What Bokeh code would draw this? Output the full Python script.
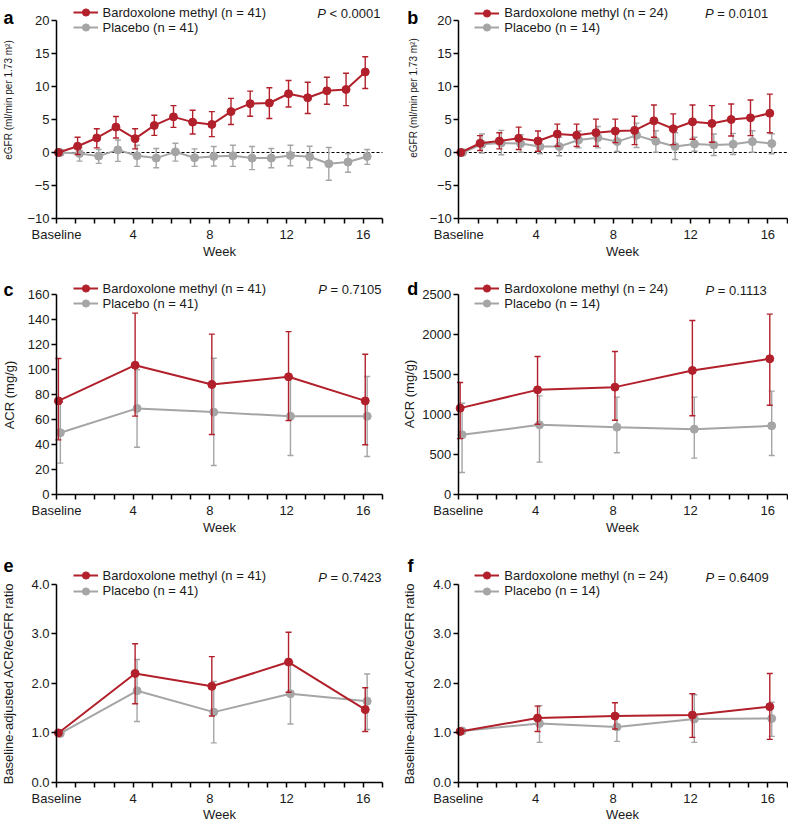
import math
import numpy as np
from bokeh.plotting import figure
from bokeh.models import Range1d, FixedTicker, Label, Legend, LegendItem, LinearAxis
from bokeh.layouts import row, column
from bokeh.embed import file_html
from bokeh.resources import INLINE

NAN = float("nan")

# ---------------- data ----------------
week_ticks = list(range(18))
week_tick_labels = ["Baseline", "", "", "", "4", "", "", "", "8", "", "", "", "12",
                    "", "", "", "16", ""]
weeks_egfr = list(range(17))
weeks_acr = [0, 4, 8, 12, 16]
week_span = (0, 17)
zero_line_y = [0, 0]

egfr_yticks = [-10, -5, 0, 5, 10, 15, 20]
egfr_ylabels = ["\u221210", "\u22125", "0", "5", "10", "15", "20"]
acr_c_yticks = [0, 20, 40, 60, 80, 100, 120, 140, 160]
acr_c_ylabels = ["0", "20", "40", "60", "80", "100", "120", "140", "160"]
acr_d_yticks = [0, 500, 1000, 1500, 2000, 2500]
acr_d_ylabels = ["0", "500", "1000", "1500", "2000", "2500"]
ratio_yticks = [0, 1, 2, 3, 4]
ratio_ylabels = ["0.0", "1.0", "2.0", "3.0", "4.0"]

egfr_title = "eGFR (ml/min per 1.73 m\u00b2)"
acr_title = "ACR (mg/g)"
ratio_title = "Baseline-adjusted ACR/eGFR ratio"
x_title = "Week"

# panel a (n = 41 / 41)
a_bard = [0, 0.95, 2.2, 3.85, 2.1, 4.1, 5.4, 4.6, 4.25, 6.2, 7.4, 7.5, 8.9, 8.3, 9.35, 9.55, 12.2]
a_bard_lo = [NAN, -0.3, 0.7, 2.2, 0.55, 2.6, 3.8, 2.8, 2.4, 4.25, 5.5, 5.15, 6.9, 5.9, 7.3, 7.1, 9.7]
a_bard_hi = [NAN, 2.3, 3.6, 5.45, 3.6, 5.65, 7.1, 6.4, 6.2, 8.2, 9.3, 9.8, 10.9, 10.65, 11.4, 12.0, 14.5]
a_plac = [0, -0.15, -0.55, 0.4, -0.5, -0.85, 0.1, -0.8, -0.6, -0.5, -0.85, -0.85, -0.45, -0.65, -1.7, -1.45, -0.6]
a_plac_lo = [NAN, -1.3, -1.65, -1.35, -2.1, -2.3, -1.3, -2.1, -2.05, -2.1, -2.6, -2.3, -2.0, -2.3, -4.2, -3.0, -1.8]
a_plac_hi = [NAN, 0.75, 0.45, 1.9, 1.1, 0.6, 1.4, 0.55, 0.9, 1.1, 0.9, 0.6, 1.1, 0.95, 0.75, -0.2, 0.45]

# panel b (n = 24 / 14)
b_bard = [0, 1.4, 1.75, 2.15, 1.75, 2.8, 2.6, 3.0, 3.25, 3.35, 4.8, 3.6, 4.65, 4.4, 5.0, 5.25, 5.95]
b_bard_lo = [NAN, 0.3, 0.55, 0.45, 0.2, 0.95, 0.9, 0.95, 1.5, 1.2, 2.3, 1.2, 2.0, 1.55, 2.5, 2.55, 3.0]
b_bard_hi = [NAN, 2.55, 3.0, 3.85, 3.25, 4.3, 4.3, 5.05, 5.05, 5.5, 7.2, 5.85, 7.2, 7.1, 7.35, 7.95, 8.85]
b_plac = [0, 1.25, 1.45, 1.35, 0.9, 0.9, 1.9, 2.25, 1.65, 2.6, 1.7, 0.9, 1.3, 1.15, 1.25, 1.65, 1.35]
b_plac_lo = [NAN, -0.1, -0.35, 0.05, -0.2, -0.5, 0.7, 0.7, 0.15, 0.75, 0.05, -1.05, 0.2, -0.45, -0.3, 0.05, -0.2]
b_plac_hi = [NAN, 2.8, 3.35, 2.7, 2.1, 2.3, 3.25, 3.95, 3.1, 4.45, 3.3, 3.0, 2.3, 2.8, 2.9, 3.3, 2.85]

# panel c (n = 41 / 41)
c_bard = [75, 103.6, 88.1, 94.3, 75]
c_bard_lo = [43.8, 62.8, 48.1, 59.3, 39.8]
c_bard_hi = [109, 145.3, 128.5, 130.5, 112.4]
c_plac = [49.5, 69, 66, 62.7, 62.7]
c_plac_lo = [25.1, 37.9, 23.2, 31.2, 30.4]
c_plac_hi = [74, 100, 109.2, 94, 94.5]

# panel d (n = 24 / 14)
d_bard = [1081, 1310, 1344, 1553, 1699]
d_bard_lo = [700, 880, 930, 985, 1118]
d_bard_hi = [1402, 1728, 1790, 2178, 2258]
d_plac = [747, 872, 843, 818, 860]
d_plac_lo = [275, 405, 522, 455, 488]
d_plac_hi = [1143, 1235, 1219, 1219, 1294]

# panel e (n = 41 / 41)
e_bard = [1.0, 2.2, 1.94, 2.43, 1.47]
e_bard_lo = [NAN, 1.59, 1.34, 1.82, 1.03]
e_bard_hi = [NAN, 2.8, 2.54, 3.03, 1.91]
e_plac = [0.99, 1.85, 1.42, 1.79, 1.64]
e_plac_lo = [NAN, 1.23, 0.8, 1.18, 1.07]
e_plac_hi = [NAN, 2.48, 2.04, 2.42, 2.19]

# panel f (n = 24 / 14)
f_bard = [1.03, 1.30, 1.34, 1.36, 1.53]
f_bard_lo = [NAN, 1.03, 1.08, 0.91, 0.87]
f_bard_hi = [NAN, 1.54, 1.61, 1.79, 2.2]
f_plac = [1.04, 1.19, 1.12, 1.28, 1.29]
f_plac_lo = [NAN, 0.81, 0.83, 0.81, 0.93]
f_plac_hi = [NAN, 1.55, 1.38, 1.77, 1.62]

bard_labels = ["Bardoxolone methyl (n = 41)", "Bardoxolone methyl (n = 24)"]
plac_labels = ["Placebo (n = 41)", "Placebo (n = 14)"]
p_values = {"a": "< 0.0001", "b": "= 0.0101", "c": "= 0.7105",
            "d": "= 0.1113", "e": "= 0.7423", "f": "= 0.6409"}

# ---------------- style / layout (page pixels) ----------------
FONT = "Liberation Sans"
RED = "#B2202B"
GRAY = "#A5A5A5"
TXT = "#1a1a1a"

COL_X = [0, 394]
COL_W = [394, 394]
ROW_Y = [0, 270, 540]
ROW_H = [270, 270, 283]

# ax: (x of week 0, x of week 17, y of top tick, y of bottom tick)
# leg: (x of legend glyph left, y of row 1 centre, y of row 2 centre)
panels = [
    dict(key="a", r=0, c=0, yr=(-10, 20), yt=egfr_yticks, ytl=egfr_ylabels, ytitle=egfr_title,
         ysize="10px", x=weeks_egfr, zero=True, n=0,
         bard=(a_bard, a_bard_lo, a_bard_hi), plac=(a_plac, a_plac_lo, a_plac_hi),
         ax=(56, 382, 20, 218), letter=(3, 17.3), ylab=(8, 99.5), week=(219, 251),
         pright=380, py=13, leg=(72.5, 12, 27.3)),
    dict(key="b", r=0, c=1, yr=(-10, 20), yt=egfr_yticks, ytl=egfr_ylabels, ytitle=egfr_title,
         ysize="10px", x=weeks_egfr, zero=True, n=1,
         bard=(b_bard, b_bard_lo, b_bard_hi), plac=(b_plac, b_plac_lo, b_plac_hi),
         ax=(458.3, 786.7, 20, 218), letter=(406.7, 17.3), ylab=(413, 97.5), week=(622, 251),
         pright=767.7, py=13.3, leg=(474.3, 12.7, 27.3)),
    dict(key="c", r=1, c=0, yr=(0, 160), yt=acr_c_yticks, ytl=acr_c_ylabels, ytitle=acr_title,
         ysize="13px", x=weeks_acr, zero=False, n=0,
         bard=(c_bard, c_bard_lo, c_bard_hi), plac=(c_plac, c_plac_lo, c_plac_hi),
         ax=(56, 382, 294.3, 494), letter=(3, 289), ylab=(9, 394.5), week=(219, 526.7),
         pright=381, py=289, leg=(72.5, 288.3, 303.3)),
    dict(key="d", r=1, c=1, yr=(0, 2500), yt=acr_d_yticks, ytl=acr_d_ylabels, ytitle=acr_title,
         ysize="13px", x=weeks_acr, zero=False, n=1,
         bard=(d_bard, d_bard_lo, d_bard_hi), plac=(d_plac, d_plac_lo, d_plac_hi),
         ax=(457.7, 786.7, 294.3, 494), letter=(406.7, 288.3), ylab=(409, 393.5),
         week=(622, 526.7), pright=768.3, py=290, leg=(474.3, 288.3, 303.3)),
    dict(key="e", r=2, c=0, yr=(0, 4), yt=ratio_yticks, ytl=ratio_ylabels, ytitle=ratio_title,
         ysize="13px", x=weeks_acr, zero=False, n=0,
         bard=(e_bard, e_bard_lo, e_bard_hi), plac=(e_plac, e_plac_lo, e_plac_hi),
         ax=(56, 382, 583.7, 782), letter=(3, 565), ylab=(7.5, 683), week=(219, 813.5),
         pright=381, py=576.7, leg=(72.5, 575, 590.7)),
    dict(key="f", r=2, c=1, yr=(0, 4), yt=ratio_yticks, ytl=ratio_ylabels, ytitle=ratio_title,
         ysize="13px", x=weeks_acr, zero=False, n=1,
         bard=(f_bard, f_bard_lo, f_bard_hi), plac=(f_plac, f_plac_lo, f_plac_hi),
         ax=(457.7, 786.7, 583.7, 782), letter=(407, 565), ylab=(409, 683),
         week=(622, 813.5), pright=768.3, py=576.7, leg=(474.3, 575, 590.7)),
]

VALUE_W = 51.0   # width of "= 0.0000" at 13px
GAP_W = 3.6      # a space at 13px
LEG_H = 18       # legend glyph box height


def build(s):
    cx, cy = COL_X[s["c"]], ROW_Y[s["r"]]
    W, H = COL_W[s["c"]], ROW_H[s["r"]]
    y0, y1 = s["yr"]
    px0, px17, pyt, pyb = s["ax"]
    sx = (px17 - px0) / (week_span[1] - week_span[0])
    sy = (pyb - pyt) / (y1 - y0)
    xs0 = week_span[0] - (px0 - cx) / sx
    xs1 = xs0 + W / sx
    ye1 = y1 + (pyt - cy) / sy
    ye0 = ye1 - H / sy

    def dx(px):
        return xs0 + (px - cx) / sx

    def dy(py):
        return ye1 - (py - cy) / sy

    p = figure(width=W, height=H, x_range=Range1d(xs0, xs1), y_range=Range1d(ye0, ye1),
               output_backend="svg", toolbar_location=None, title=None,
               x_axis_location=None, y_axis_location=None, min_border=0)
    p.xgrid.visible = False
    p.ygrid.visible = False
    p.outline_line_color = None
    p.background_fill_color = "white"
    p.border_fill_color = "white"

    xaxis = LinearAxis(fixed_location=y0, bounds=week_span,
                       ticker=FixedTicker(ticks=week_ticks),
                       major_label_overrides={t: l for t, l in zip(week_ticks, week_tick_labels)})
    yaxis = LinearAxis(fixed_location=week_span[0], bounds=(y0, y1),
                       ticker=FixedTicker(ticks=s["yt"]),
                       major_label_overrides={t: l for t, l in zip(s["yt"], s["ytl"])})
    for ax in (xaxis, yaxis):
        ax.axis_line_color = "black"
        ax.axis_line_width = 1.5
        ax.major_tick_line_color = "black"
        ax.major_tick_line_width = 1.5
        ax.major_tick_out = 5
        ax.major_tick_in = 0
        ax.minor_tick_line_color = None
        ax.major_label_text_font = FONT
        ax.major_label_text_font_size = "13px"
        ax.major_label_text_color = TXT
    xaxis.major_label_standoff = 3
    yaxis.major_label_standoff = 2
    p.add_layout(xaxis, "below")
    p.add_layout(yaxis, "left")

    if s["zero"]:
        p.line(x=list(week_span), y=zero_line_y, line_color="black", line_width=1.2,
               line_dash="3 2")

    rends = {}
    for key, color, shift in (("plac", GRAY, 0.2), ("bard", RED, 0.1)):
        vals, lo, hi = s[key]
        xs = np.array([w + shift for w in s["x"]], dtype=float)
        lo = np.array(lo, dtype=float)
        hi = np.array(hi, dtype=float)
        v = np.array(vals, dtype=float)
        p.segment(x0=xs, y0=lo, x1=xs, y1=hi, line_color=color, line_width=1.4)
        p.scatter(x=xs, y=hi, marker="dash", size=6, line_color=color, line_width=1.4)
        p.scatter(x=xs, y=lo, marker="dash", size=6, line_color=color, line_width=1.4)
        ln = p.line(x=xs, y=v, line_color=color, line_width=2)
        pts = p.scatter(x=xs, y=v, marker="circle", size=8, fill_color=color,
                        line_color=color)
        rends[key] = [ln, pts]

    # legend: one single-item legend per row, so each row sits at its own place
    lx, r1, r2 = s["leg"]
    for label, rr, rc in ((bard_labels[s["n"]], rends["bard"], r1),
                          (plac_labels[s["n"]], rends["plac"], r2)):
        legend = Legend(items=[LegendItem(label=label, renderers=rr)],
                        location=(lx - cx, H - (rc - cy + LEG_H / 2)),
                        orientation="vertical", padding=0, margin=0, spacing=0,
                        glyph_width=25, glyph_height=LEG_H, label_height=LEG_H,
                        label_standoff=5, border_line_alpha=0, background_fill_alpha=0,
                        label_text_font=FONT, label_text_font_size="13px",
                        label_text_color=TXT, label_text_baseline="middle")
        p.add_layout(legend)

    # panel letter
    lx0, ly0 = s["letter"]
    p.add_layout(Label(x=dx(lx0), y=dy(ly0), text=s["key"], text_font=FONT,
                       text_font_size="18px", text_font_style="bold", text_color="black",
                       text_align="left", text_baseline="alphabetic"))
    # y-axis title
    yx, yy = s["ylab"]
    p.add_layout(Label(x=dx(yx), y=dy(yy), text=s["ytitle"], angle=math.pi / 2,
                       text_font=FONT, text_font_size=s["ysize"], text_color=TXT,
                       text_align="center", text_baseline="middle"))
    # x-axis title
    wx, wy = s["week"]
    p.add_layout(Label(x=dx(wx), y=dy(wy), text=x_title, text_font=FONT,
                       text_font_size="13px", text_color=TXT,
                       text_align="center", text_baseline="middle"))
    # P value
    vleft = s["pright"] - VALUE_W
    p.add_layout(Label(x=dx(vleft - GAP_W), y=dy(s["py"]), text="P", text_font=FONT,
                       text_font_size="13px", text_font_style="italic", text_color=TXT,
                       text_align="right", text_baseline="middle"))
    p.add_layout(Label(x=dx(vleft), y=dy(s["py"]), text=p_values[s["key"]],
                       text_font=FONT, text_font_size="13px", text_color=TXT,
                       text_align="left", text_baseline="middle"))
    return p


figs = [build(s) for s in panels]
layout = column(row(figs[0], figs[1]), row(figs[2], figs[3]), row(figs[4], figs[5]))

open("out.html", "w").write(file_html(layout, INLINE))
